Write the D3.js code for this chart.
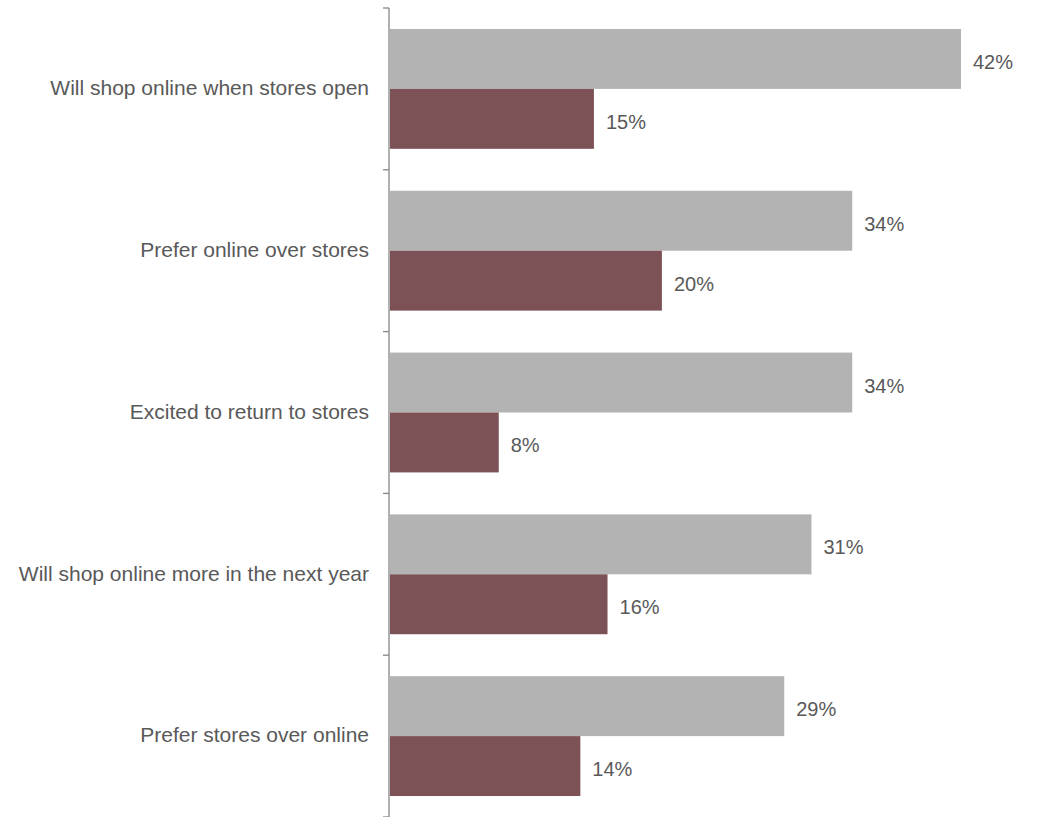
<!DOCTYPE html>
<html>
<head>
<meta charset="utf-8">
<script src="https://cdn.jsdelivr.net/npm/d3@7"></script>
<style>
  body { margin: 0; background: #fff; }
  text { font-family: "Liberation Sans", Arial, sans-serif; fill: #595959; }
</style>
</head>
<body>
<div id="chart"></div>
<script>
const WIDTH = 1038;
const HEIGHT = 817;
const LEFT = 389;
const TOP = 8;
const BOTTOM = 817;

const categories = [
  'Will shop online when stores open',
  'Prefer online over stores',
  'Excited to return to stores',
  'Will shop online more in the next year',
  'Prefer stores over online'
];
const seriesNames = ['first', 'second'];
const firstValues = [42, 34, 34, 31, 29];
const secondValues = [15, 20, 8, 16, 14];
const colors = { first: '#b3b3b3', second: '#7d5257' };

let rows = categories.map((cat, i) => ({
  cat: cat,
  values: [
    { key: 'first', value: firstValues[i] },
    { key: 'second', value: secondValues[i] }
  ]
}));

let svg = d3.select('#chart').append('svg')
  .attr('width', WIDTH)
  .attr('height', HEIGHT);

let y0 = d3.scaleBand()
  .domain(categories)
  .range([TOP, BOTTOM])
  .paddingInner(0)
  .paddingOuter(0);

let y1 = d3.scaleBand()
  .domain(seriesNames)
  .range([0, y0.bandwidth()])
  .paddingInner(0)
  .paddingOuter(0.35);

let x = d3.scaleLinear()
  .domain([0, 42])
  .range([LEFT + 1, 961]);

// bars
let groups = svg.append('g').attr('class', 'barGroup')
  .selectAll('g')
  .data(rows)
  .enter()
  .append('g')
  .attr('transform', (d) => `translate(0, ${y0(d.cat)})`);

groups.selectAll('rect')
  .data((d) => d.values)
  .enter()
  .append('rect')
  .attr('x', x(0))
  .attr('y', (d) => y1(d.key))
  .attr('width', (d) => x(d.value) - x(0))
  .attr('height', y1.bandwidth())
  .style('fill', (d) => colors[d.key]);

groups.selectAll('text.value')
  .data((d) => d.values)
  .enter()
  .append('text')
  .attr('class', 'value')
  .attr('x', (d) => x(d.value) + 12)
  .attr('y', (d) => y1(d.key) + y1.bandwidth() / 2 + 3)
  .attr('dy', '0.35em')
  .style('font-size', '20px')
  .text((d) => d.value + '%');

// category labels
svg.append('g').attr('class', 'labelGroup')
  .selectAll('text')
  .data(categories)
  .enter()
  .append('text')
  .attr('x', 369)
  .attr('y', (d) => y0(d) + y0.bandwidth() / 2)
  .attr('dy', '0.3em')
  .attr('text-anchor', 'end')
  .style('font-size', '21px')
  .text((d) => d);

// axis line with ticks between categories
let axisGroup = svg.append('g').attr('class', 'axisGroup');
let tickPositions = categories.map((c) => y0(c)).concat([y0.range()[1]]);

axisGroup.append('line')
  .attr('x1', LEFT).attr('x2', LEFT)
  .attr('y1', TOP).attr('y2', BOTTOM)
  .attr('stroke', '#868686')
  .attr('stroke-width', 1.3);

axisGroup.selectAll('line.tick')
  .data(tickPositions)
  .enter()
  .append('line')
  .attr('class', 'tick')
  .attr('x1', LEFT - 6).attr('x2', LEFT)
  .attr('y1', (d) => d).attr('y2', (d) => d)
  .attr('stroke', '#868686')
  .attr('stroke-width', 1.3);
</script>
</body>
</html>
